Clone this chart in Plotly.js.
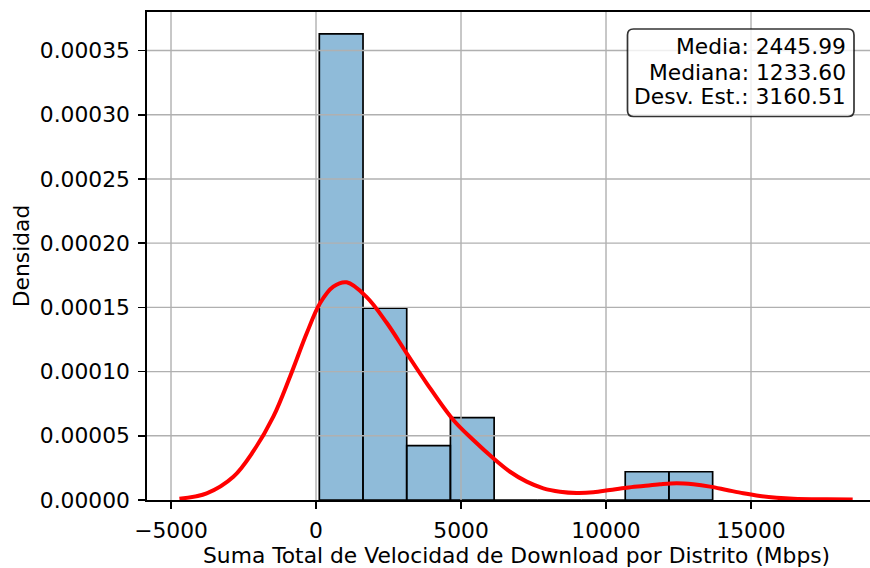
<!DOCTYPE html>
<html>
<head>
<meta charset="utf-8">
<script src="https://cdn.plot.ly/plotly-3.0.1.min.js"></script>
<style>
  html, body { margin: 0; padding: 0; overflow: hidden; background: #ffffff; }
  #chart { width: 886px; height: 568px; }
</style>
</head>
<body>
<div id="chart"></div>
<script>
// Histogram bins (Mbps) and their densities
const binEdges = [114, 1621, 3128, 4635, 6142, 7649, 9156, 10663, 12170, 13677];
const binDensity = [0.000363, 0.0001493, 0.0000423, 0.0000641, 0, 0, 0, 0.000022, 0.000022];

// Kernel density estimate curve
const kdeX = [-4710, -3770, -2850, -2160, -1472, -897, -321, 138, 597, 1058, 1748, 2437,
              3128, 3817, 4735, 5424, 6114, 6690, 7264, 7839, 8414, 8989, 9563, 10138,
              10713, 11287, 11862, 12437, 13011, 13586, 14161, 14735, 15310, 15885, 16459,
              17609, 18506];
const kdeY = [0.000001, 0.0000052, 0.0000181, 0.000038, 0.0000649, 0.000096, 0.0001298,
              0.0001532, 0.0001661, 0.0001695, 0.000158, 0.000138, 0.0001142, 0.0000909,
              0.0000623, 0.0000467, 0.0000325, 0.000022, 0.0000143, 0.0000091, 0.0000065,
              0.0000055, 0.000006, 0.0000078, 0.0000096, 0.0000109, 0.0000122, 0.000013,
              0.0000122, 0.0000104, 0.0000078, 0.0000052, 0.0000031, 0.0000018, 0.000001,
              0.0000005, 0.0000003];

// Axis ticks
const xTickVals = [-5000, 0, 5000, 10000, 15000];
const xTickText = ['\u22125000', '0', '5000', '10000', '15000'];
const yTickVals = [0, 0.00005, 0.0001, 0.00015, 0.0002, 0.00025, 0.0003, 0.00035];
const yTickText = ['0.00000', '0.00005', '0.00010', '0.00015', '0.00020', '0.00025', '0.00030', '0.00035'];

// Axis labels and summary statistics box
const xLabel = 'Suma Total de Velocidad de Download por Distrito (Mbps)';
const yLabel = 'Densidad';
const statLines = ['Media: 2445.99', 'Mediana: 1233.60', 'Desv. Est.: 3160.51'];

const xRange = [-5828, 19655];
const yRange = [0, 0.00038];

const FONT = 'DejaVu Sans, sans-serif';
const FS = 21.8;
const GRID = '#b0b0b0';

// Bars built from the bin edges
const barX = [], barW = [];
for (let i = 0; i < binDensity.length; i++) {
  barX.push((binEdges[i] + binEdges[i + 1]) / 2);
  barW.push(binEdges[i + 1] - binEdges[i]);
}

const traces = [{
  type: 'bar',
  x: barX,
  y: binDensity,
  width: barW,
  marker: { color: 'rgba(31,119,180,0.5)', line: { color: '#000000', width: 1.7 } },
  hoverinfo: 'skip',
  showlegend: false
}];

// Grid lines sit above the bars but below the density curve
yTickVals.slice(1).forEach(v => traces.push({
  type: 'scatter', mode: 'lines', x: xRange, y: [v, v],
  line: { color: GRID, width: 1.4 }, hoverinfo: 'skip', showlegend: false
}));
xTickVals.forEach(v => traces.push({
  type: 'scatter', mode: 'lines', x: [v, v], y: yRange,
  line: { color: GRID, width: 1.4 }, hoverinfo: 'skip', showlegend: false
}));

traces.push({
  type: 'scatter', mode: 'lines', x: kdeX, y: kdeY,
  line: { color: '#ff0000', width: 4, shape: 'spline', smoothing: 1 },
  hoverinfo: 'skip', showlegend: false
});

// Plot-area geometry used for the statistics box (pixels)
const L = 147, T = 12, W = 739, H = 488;
const px = x => (x - L) / W;
const py = y => (T + H - y) / H;

const bx0 = px(627.5), bx1 = px(854), by1 = py(29), by0 = py(116.5);
const rx = 6 / W, ry = 6 / H;
const boxPath = `M ${bx0 + rx},${by1} L ${bx1 - rx},${by1} Q ${bx1},${by1} ${bx1},${by1 - ry} ` +
  `L ${bx1},${by0 + ry} Q ${bx1},${by0} ${bx1 - rx},${by0} L ${bx0 + rx},${by0} ` +
  `Q ${bx0},${by0} ${bx0},${by0 + ry} L ${bx0},${by1 - ry} Q ${bx0},${by1} ${bx0 + rx},${by1} Z`;

const lineCenters = [46.5, 72, 96.5];
const annotations = statLines.map((t, i) => ({
  xref: 'paper', yref: 'paper',
  x: px(847.5), y: py(lineCenters[i]),
  xanchor: 'right', yanchor: 'middle',
  text: t, showarrow: false,
  font: { family: FONT, size: FS, color: '#000000' }
}));

// x-axis label, centred under the axis
annotations.push({
  xref: 'paper', yref: 'paper',
  x: 0.5, y: py(555.5),
  xanchor: 'center', yanchor: 'middle',
  text: xLabel, showarrow: false,
  font: { family: FONT, size: FS, color: '#000000' }
});

const axisCommon = {
  showline: true, linecolor: '#000000', linewidth: 1.7,
  ticks: 'outside', ticklen: 7, tickwidth: 1.7, tickcolor: '#000000',
  showgrid: false, zeroline: false, layer: 'above traces',
  tickfont: { family: FONT, size: FS, color: '#000000' },
  automargin: false, mirror: true
};

const layout = {
  width: 886, height: 568,
  margin: { l: L, r: 0, t: T, b: 568 - T - H },
  paper_bgcolor: '#ffffff', plot_bgcolor: '#ffffff',
  showlegend: false,
  bargap: 0,
  xaxis: Object.assign({}, axisCommon, {
    range: xRange, tickmode: 'array', tickvals: xTickVals, ticktext: xTickText,
    ticklabelstandoff: 3
  }),
  yaxis: Object.assign({}, axisCommon, {
    range: yRange, tickmode: 'array', tickvals: yTickVals, ticktext: yTickText,
    ticklabelstandoff: 4,
    title: { text: yLabel, font: { family: FONT, size: FS, color: '#000000' }, standoff: 4 }
  }),
  shapes: [{
    type: 'path', xref: 'paper', yref: 'paper', path: boxPath,
    fillcolor: 'rgba(255,255,255,0.8)', line: { color: 'rgba(0,0,0,0.8)', width: 1.7 },
    layer: 'above'
  }],
  annotations: annotations
};

Plotly.newPlot('chart', traces, layout, { displayModeBar: false, staticPlot: true });
</script>
</body>
</html>
